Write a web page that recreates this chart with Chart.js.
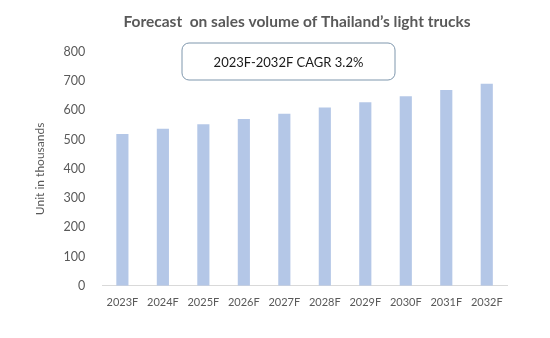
<!DOCTYPE html>
<html>
<head>
<meta charset="utf-8">
<script src="https://cdn.jsdelivr.net/npm/chart.js@4"></script>
<style>
  html, body { margin: 0; padding: 0; background: #fff; }
  #wrap { width: 550px; height: 338px; }
</style>
</head>
<body>
<div id="wrap"><canvas id="salesChart" width="550" height="338"></canvas></div>
<script>
const years = ["2023F", "2024F", "2025F", "2026F", "2027F",
    "2028F", "2029F", "2030F", "2031F", "2032F"];
const salesVolume = [519, 537, 553, 571, 589, 610, 628, 649, 670, 691];
const yTicks = [0, 100, 200, 300, 400, 500, 600, 700, 800];
const chartTitle = "Forecast  on sales volume of Thailand\u2019s light trucks";
const cagrLabel = "2023F-2032F CAGR 3.2%";

const fontFamily = "Lato, 'Open Sans', sans-serif";

// title (centred a bit right of the plot) and rounded CAGR box
const annotations = {
    id: 'annotations',
    afterDraw(chart) {
        const c = chart.ctx;
        c.save();
        c.fillStyle = '#595959';
        c.font = "bold 15.5px " + fontFamily;
        c.textAlign = 'center';
        c.textBaseline = 'middle';
        c.fillText(chartTitle, 297, 22);

        const x = 182, y = 43, w = 213, h = 37, r = 7;
        c.beginPath();
        c.roundRect(x, y, w, h, r);
        c.fillStyle = '#ffffff';
        c.fill();
        c.lineWidth = 1;
        c.strokeStyle = '#7f97ad';
        c.stroke();
        c.fillStyle = '#1a1a1a';
        c.font = "13px " + fontFamily;
        c.fillText(cagrLabel, x + w / 2, y + h / 2 + 1);
        c.restore();
    }
};

const ctx = document.getElementById('salesChart').getContext('2d');
new Chart(ctx, {
    type: 'bar',
    data: {
        labels: years,
        datasets: [{
            label: 'Sales volume',
            data: salesVolume,
            backgroundColor: '#b4c7e7',
            barPercentage: 0.3,
            categoryPercentage: 1
        }]
    },
    options: {
        responsive: false,
        animation: false,
        layout: { padding: { left: 29, right: 43, bottom: 27, top: 52 } },
        plugins: {
            legend: { display: false },
            tooltip: { enabled: false },
            title: { display: false }
        },
        scales: {
            x: {
                grid: { display: false },
                border: { color: '#d9d9d9' },
                ticks: { color: '#595959', font: { family: fontFamily, size: 11 }, padding: 2 }
            },
            y: {
                min: 0,
                max: yTicks[yTicks.length - 1],
                afterBuildTicks: axis => { axis.ticks = yTicks.map(v => ({ value: v })); },
                grid: { display: false },
                border: { display: false },
                ticks: { color: '#595959', font: { family: fontFamily, size: 12.5 }, padding: 9 },
                title: {
                    display: true,
                    text: 'Unit in thousands',
                    color: '#595959',
                    font: { family: fontFamily, size: 12 },
                    padding: { bottom: 7 }
                }
            }
        }
    },
    plugins: [annotations]
});
</script>
</body>
</html>
